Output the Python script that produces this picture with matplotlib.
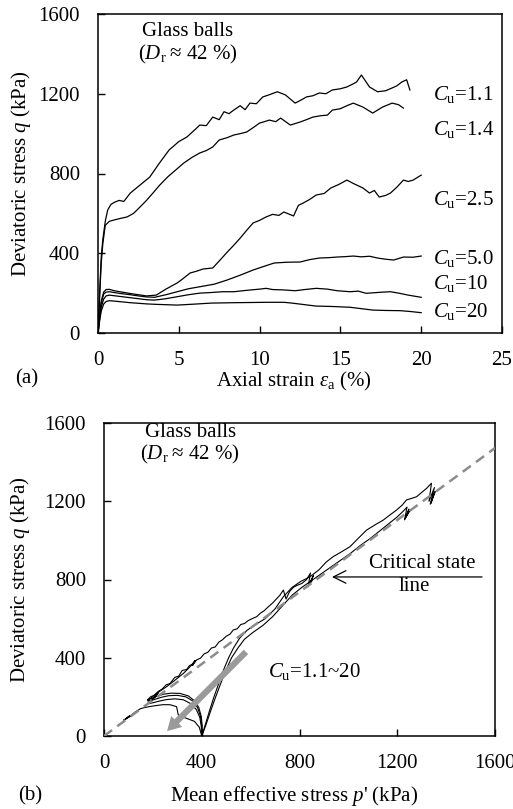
import matplotlib
matplotlib.use("Agg")
import matplotlib.pyplot as plt
from matplotlib.patches import FancyArrowPatch

plt.rcParams['font.family'] = ['Liberation Serif', 'DejaVu Serif']
plt.rcParams['mathtext.fontset'] = 'custom'
plt.rcParams['mathtext.rm'] = 'Liberation Serif'
plt.rcParams['mathtext.it'] = 'Liberation Serif:italic'
plt.rcParams['mathtext.cal'] = 'Liberation Serif:italic'
plt.rcParams['font.size'] = 15

# ---------------- (a) q vs axial strain ----------------
eps_11 = [0, 0.1, 0.2, 0.3, 0.45, 0.6, 0.8, 1.0, 1.3, 1.6, 2.0, 2.6, 3.2, 3.8, 4.4, 5.0, 5.5, 6.0, 6.3, 6.7,
          7.1, 7.5, 7.8, 8.1, 8.4, 8.8, 9.1, 9.4, 9.8, 10.2, 10.6, 11.1, 11.6, 12.2, 12.6, 12.9, 13.3, 13.7,
          14.1, 14.5, 15.0, 15.4, 15.8, 16.0, 16.3, 16.8, 17.3, 17.8, 18.2, 18.5, 18.8, 19.1, 19.3]
q_11 = [0, 200, 380, 470, 560, 617, 645, 655, 665, 660, 702, 742, 782, 852, 918, 960, 983, 1020, 1043, 1040,
        1083, 1070, 1110, 1100, 1118, 1140, 1120, 1153, 1150, 1184, 1195, 1210, 1194, 1153, 1170, 1184, 1190, 1204,
        1200, 1219, 1225, 1234, 1250, 1259, 1294, 1234, 1210, 1215, 1229, 1240, 1259, 1270, 1219]

eps_14 = [0, 0.1, 0.2, 0.3, 0.45, 0.7, 1.0, 1.4, 1.8, 2.2, 2.6, 3.0, 3.4, 3.8, 4.3, 4.7, 5.3, 5.8, 6.3, 6.7,
          7.1, 7.5, 8.0, 8.4, 8.8, 9.2, 9.6, 10.0, 10.3, 10.6, 11.0, 11.3, 11.9, 12.5, 12.9, 13.3, 13.8, 14.2,
          14.5, 15.0, 15.4, 15.8, 16.4, 17.0, 17.6, 18.2, 18.6, 18.9]
q_14 = [0, 180, 350, 450, 540, 560, 567, 575, 582, 600, 632, 665, 702, 740, 782, 810, 852, 880, 903, 915,
        933, 968, 980, 993, 1000, 1008, 1030, 1053, 1060, 1068, 1060, 1078, 1043, 1058, 1070, 1083, 1090, 1093,
        1118, 1125, 1140, 1153, 1133, 1103, 1133, 1153, 1145, 1128]

eps_25 = [0, 0.1, 0.2, 0.35, 0.5, 0.7, 1.0, 1.5, 2.0, 2.5, 3.0, 3.6, 4.2, 4.9, 5.3, 5.7, 6.1, 6.5, 7.1, 7.6,
          8.0, 8.4, 8.8, 9.2, 9.6, 10.0, 10.4, 10.8, 11.2, 11.5, 12.1, 12.4, 12.7, 13.1, 13.5, 14.0, 14.4, 14.9,
          15.4, 15.8, 16.4, 16.8, 17.1, 17.4, 17.8, 18.1, 18.5, 18.9, 19.2, 19.5, 20.0]
q_25 = [0, 90, 160, 205, 218, 219, 212, 205, 198, 192, 186, 190, 220, 251, 275, 301, 310, 321, 326, 370,
        406, 440, 476, 515, 552, 565, 582, 595, 590, 607, 587, 640, 652, 670, 692, 700, 727, 745,
        767, 750, 727, 702, 715, 682, 690, 702, 732, 767, 760, 767, 792]

eps_50 = [0, 0.1, 0.2, 0.35, 0.5, 0.7, 1.0, 1.5, 2.0, 2.5, 3.0, 3.5, 4.2, 4.9, 5.6, 6.3, 7.2, 8.0, 8.8, 9.6,
          10.3, 10.9, 11.7, 12.5, 13.1, 13.7, 14.3, 14.8, 15.3, 15.8, 16.3, 16.8, 17.3, 17.8, 18.3, 18.9, 19.5, 20.0]
q_50 = [0, 80, 150, 195, 205, 207, 203, 197, 192, 186, 181, 179, 192, 207, 222, 232, 245, 266, 290, 316,
        335, 351, 355, 356, 368, 376, 378, 381, 383, 386, 382, 385, 376, 370, 366, 381, 380, 386]

eps_10 = [0, 0.1, 0.2, 0.35, 0.5, 0.7, 1.0, 1.5, 2.0, 2.5, 3.0, 3.5, 4.2, 4.9, 5.6, 6.3, 7.0, 7.7, 8.4, 9.2,
          10.0, 10.4, 10.8, 11.5, 12.2, 12.8, 13.5, 14.2, 14.8, 15.6, 16.1, 16.6, 17.1, 17.6, 18.1, 18.6, 19.2, 20.0]
q_10 = [0, 70, 130, 170, 186, 190, 187, 182, 177, 172, 167, 165, 172, 182, 192, 200, 203, 207, 207, 214,
        220, 224, 218, 216, 212, 218, 224, 220, 212, 207, 210, 199, 202, 205, 207, 200, 190, 179]

eps_20 = [0, 0.1, 0.2, 0.35, 0.5, 0.7, 1.0, 1.5, 2.0, 2.5, 3.0, 3.5, 4.2, 4.9, 6.0, 7.0, 8.4, 9.5, 10.5, 11.5,
          12.0, 12.5, 13.5, 14.5, 15.6, 16.3, 17.0, 17.8, 18.7, 19.3, 20.0]
q_20 = [0, 60, 110, 145, 158, 162, 160, 156, 152, 149, 146, 144, 142, 140, 145, 150, 152, 153, 154, 154,
        150, 145, 135, 133, 129, 122, 115, 113, 112, 108, 102]

labels_a = ['1.1', '1.4', '2.5', '5.0', '10', '20']
label_q_a = [1168, 993, 642, 346, 221, 80]

# ---------------- (b) stress paths q vs p' ----------------
p_11 = [400, 415, 432, 450, 470, 490, 510, 530, 555, 585, 620, 660, 700, 734, 770, 805, 843, 880, 910, 938,
        970, 1007, 1040, 1075, 1110, 1143, 1170, 1197, 1220, 1238, 1260, 1279, 1300, 1320, 1340, 1330, 1352,
        1335, 1355, 1338, 1350]
qp_11 = [0, 60, 130, 200, 270, 340, 400, 450, 500, 540, 570, 600, 650, 712, 760, 790, 814, 850, 890, 917,
         940, 968, 1010, 1053, 1080, 1104, 1130, 1155, 1180, 1207, 1215, 1223, 1245, 1266, 1292, 1200, 1270,
         1185, 1250, 1190, 1240]

p_14 = [400, 418, 437, 457, 478, 500, 522, 548, 575, 610, 650, 690, 730, 770, 810, 850, 890, 930, 970, 1010,
        1050, 1090, 1130, 1170, 1200, 1225, 1240, 1230, 1248, 1232, 1250, 1235]
qp_14 = [0, 60, 130, 200, 270, 340, 400, 450, 495, 530, 565, 610, 665, 720, 760, 795, 830, 865, 900, 935,
         975, 1010, 1050, 1090, 1120, 1150, 1170, 1105, 1160, 1110, 1150, 1120]

p_25 = [400, 402, 398, 388, 370, 345, 310, 275, 245, 220, 200, 185, 178, 190, 205, 222, 238, 255, 270, 290,
        305, 320, 338, 350, 365, 379, 395, 410, 425, 440, 455, 470, 485, 500, 515, 529, 545, 560, 575, 590,
        610, 625, 640, 655, 672, 690, 705, 720, 734, 745, 760, 775, 790, 810, 829, 845, 835, 857, 838, 852]
qp_25 = [0, 50, 100, 145, 180, 205, 218, 219, 214, 205, 195, 188, 183, 200, 208, 228, 240, 262, 268, 300,
         305, 335, 340, 360, 368, 389, 398, 420, 428, 450, 455, 480, 492, 510, 520, 542, 548, 570, 575, 590,
         602, 610, 628, 640, 660, 680, 700, 720, 746, 700, 740, 760, 770, 780, 800, 833, 763, 820, 770, 795]

p_50 = [400, 400, 395, 383, 362, 335, 300, 265, 235, 210, 192, 180, 190, 210, 232, 256, 280, 305, 325, 345,
        360, 372, 362, 375, 360, 372]
qp_50 = [0, 50, 100, 145, 180, 200, 208, 206, 198, 188, 181, 178, 192, 212, 232, 252, 275, 300, 320, 345,
         365, 385, 360, 385, 365, 380]

p_10 = [400, 398, 392, 378, 355, 325, 290, 255, 225, 200, 185, 178, 190, 200, 210, 220, 205, 222, 200, 215]
qp_10 = [0, 50, 95, 135, 165, 185, 190, 186, 178, 170, 166, 165, 178, 190, 200, 220, 195, 222, 190, 210]

p_20 = [400, 390, 370, 338, 304, 297, 270, 240, 210, 185, 165, 150, 130, 110, 95, 80, 105, 90, 110, 100]
qp_20 = [0, 45, 75, 90, 107, 150, 160, 160, 155, 150, 145, 140, 125, 105, 95, 80, 100, 88, 105, 100]

csl_p = [0, 1600]
csl_q = [0, 1472]

arrow_start = (589, 440)
arrow_end = (250, 15)

fig = plt.figure(figsize=(5.13, 8.09), dpi=100)

LW = 0.9
ax1 = fig.add_axes([98/513, 1-333/809, 404/513, 319/809])
for e, q in [(eps_11, q_11), (eps_14, q_14), (eps_25, q_25), (eps_50, q_50), (eps_10, q_10), (eps_20, q_20)]:
    ax1.plot(e, q, color='black', lw=LW)
ax1.set_xlim(0, 25)
ax1.set_ylim(0, 1600)
ax1.set_xticks([0, 5, 10, 15, 20, 25])
ax1.set_yticks([0, 400, 800, 1200, 1600])
ax1.tick_params(direction='in', length=5, width=1, labelsize=15)
ax1.tick_params(axis='x', pad=13)
ax1.tick_params(axis='y', pad=13)
for s in ax1.spines.values():
    s.set_linewidth(1.1)
ax1.set_xlabel(r'Axial strain $\varepsilon_{\mathrm{a}}$ (%)', fontsize=15)
ax1.xaxis.set_label_coords(0.485, (333-381)/319)
ax1.xaxis.label.set_va('center')
ax1.set_ylabel(r'Deviatoric stress $q$ (kPa)', fontsize=15)
ax1.yaxis.set_label_coords(-(98-21)/404, 0.5)
ax1.yaxis.label.set_va('center')
ax1.text(5.57, 1510, 'Glass balls', ha='center', va='center', fontsize=15)
ax1.text(5.57, 1399, r'($D_{\mathrm{r}}$' + '\u2009\u2248 42 %)', ha='center', va='center', fontsize=15)
for lab, yq in zip(labels_a, label_q_a):
    ax1.text(20.7, yq, r'$C_{\mathrm{u}}$=' + lab, ha='left', va='baseline', fontsize=15)
fig.text(15/513, 1-379/809, '(a)', ha='left', va='center', fontsize=15)

ax2 = fig.add_axes([104/513, 1-736/809, 391/513, 313/809])
ax2.plot(csl_p, csl_q, color='#8c8c8c', lw=1.8, dashes=(4, 2.6), zorder=3)
for p, q in [(p_11, qp_11), (p_14, qp_14), (p_25, qp_25), (p_50, qp_50), (p_10, qp_10), (p_20, qp_20)]:
    ax2.plot(p, q, color='black', lw=0.8, zorder=2)
ax2.set_xlim(0, 1600)
ax2.set_ylim(0, 1600)
ax2.set_xticks([0, 400, 800, 1200, 1600])
ax2.set_yticks([0, 400, 800, 1200, 1600])
ax2.tick_params(direction='in', length=5, width=1, pad=13, labelsize=15)
for s in ax2.spines.values():
    s.set_linewidth(1.1)
ax2.set_xlabel("Mean effective stress $p$' (kPa)", fontsize=15)
ax2.xaxis.set_label_coords(0.485, (736-796)/313)
ax2.xaxis.label.set_va('center')
ax2.set_ylabel(r'Deviatoric stress $q$ (kPa)', fontsize=15)
ax2.yaxis.set_label_coords(-(104-20)/391, 0.5)
ax2.yaxis.label.set_va('center')
ax2.text(356, 1549, 'Glass balls', ha='center', va='center', fontsize=15)
ax2.text(352, 1437, r'($D_{\mathrm{r}}$' + '\u2009\u2248 42 %)', ha='center', va='center', fontsize=15)
ax2.text(1301, 884, 'Critical state', ha='center', va='center', fontsize=15)
ax2.text(1268, 762, 'line', ha='center', va='center', fontsize=15)
ax2.annotate('', xy=(933, 813), xytext=(1547, 813),
             arrowprops=dict(arrowstyle='->,head_length=0.6,head_width=0.3', lw=0.9, color='black',
                             shrinkA=0, shrinkB=0, mutation_scale=15))
ax2.text(671, 302, r'$C_{\mathrm{u}}$=1.1~20', ha='left', va='baseline', fontsize=15)
arr = FancyArrowPatch(arrow_start, arrow_end,
                      arrowstyle='simple,head_length=0.7,head_width=0.8,tail_width=0.32',
                      mutation_scale=14, color='#9a9a9a', lw=0, zorder=4)
ax2.add_patch(arr)
fig.text(18/513, 1-796/809, '(b)', ha='left', va='center', fontsize=15)

fig.savefig('out.png', dpi=100)
